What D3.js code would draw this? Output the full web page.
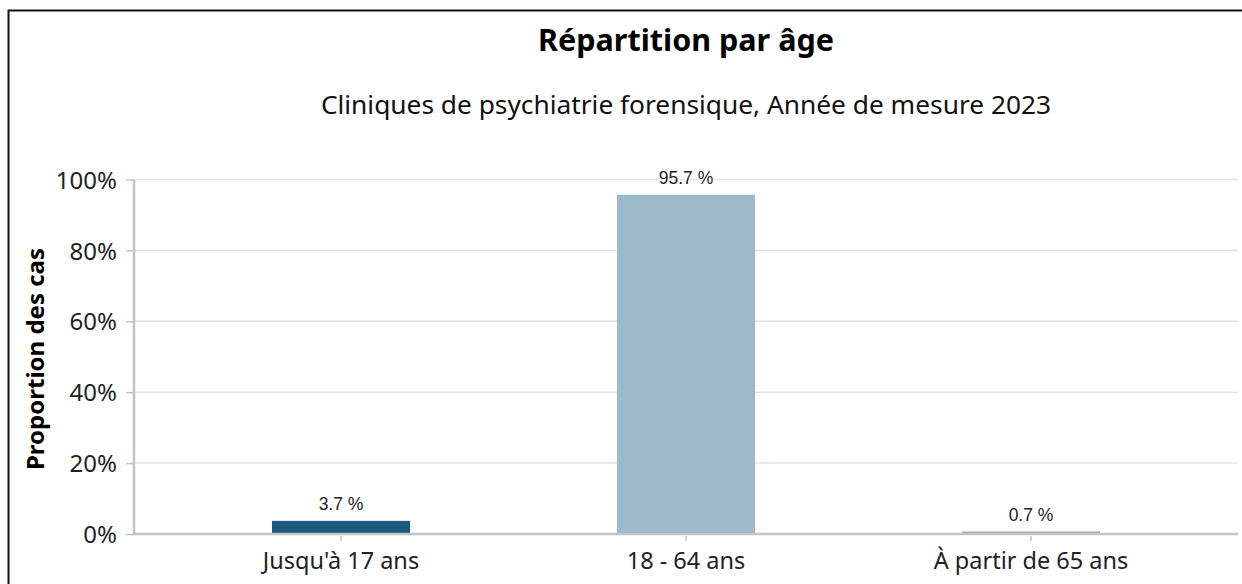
<!DOCTYPE html>
<html>
<head>
<meta charset="utf-8">
<script src="https://cdn.jsdelivr.net/npm/d3@7"></script>
<style>
  html, body { margin: 0; padding: 0; background: #fff; }
  svg { display: block; }
</style>
</head>
<body>
<svg id="chart" width="1242" height="584"></svg>
<script>
const categories = ["Jusqu'à 17 ans", "18 - 64 ans", "À partir de 65 ans"];
const values = [3.7, 95.7, 0.7];
const colors = ["#1b5a7e", "#9dbacb", "#a6a6a6"];
const yTicks = [0, 20, 40, 60, 80, 100];
const titleText = "Répartition par âge";
const subtitleText = "Cliniques de psychiatrie forensique, Année de mesure 2023";
const yTitle = "Proportion des cas";

(function () {
const svg = d3.select("#chart");
const FONT = "'Noto Sans', 'Open Sans', sans-serif";

// frame
svg.append("rect").attr("x", 8.5).attr("y", 10.5).attr("width", 1300).attr("height", 700)
  .attr("fill", "#fff").attr("stroke", "#111").attr("stroke-width", 2);

const pLeft = 134, pRight = 1238, pTop = 179.5, pBottom = 534;

const x = d3.scaleBand().domain(categories).range([pLeft, pRight]).paddingInner(0.6).paddingOuter(0.4);
const y = d3.scaleLinear().domain([0, 100]).range([pBottom, pTop]);

// gridlines
svg.append("g").selectAll("line").data(yTicks.filter(d => d > 0)).join("line")
  .attr("x1", pLeft).attr("x2", pRight)
  .attr("y1", d => y(d)).attr("y2", d => y(d))
  .attr("stroke", "#e3e3e3").attr("stroke-width", 1.5);

// y axis
const yAxis = d3.axisLeft(y).tickValues(yTicks).tickFormat(d => d + "%").tickSize(8).tickPadding(9);
const gy = svg.append("g").attr("transform", `translate(${pLeft},0)`).call(yAxis);
gy.select(".domain").attr("stroke", "#c4c4c4").attr("stroke-width", 2.5).attr("d", `M0,${pTop}V${pBottom}`);
gy.selectAll(".tick line").attr("stroke", "#c4c4c4").attr("stroke-width", 1.5).attr("x2", -8);
gy.selectAll(".tick text").attr("font-family", FONT).attr("font-size", 24).attr("fill", "#222").attr("dy", "0.36em");

// bars
svg.append("g").selectAll("rect").data(values).join("rect")
  .attr("x", (d, i) => x(categories[i]))
  .attr("width", x.bandwidth())
  .attr("y", d => y(d))
  .attr("height", d => y(0) - y(d))
  .attr("fill", (d, i) => colors[i]);

// x axis
const xAxis = d3.axisBottom(x).tickSize(7).tickPadding(11);
const gx = svg.append("g").attr("transform", `translate(0,${pBottom})`).call(xAxis);
gx.select(".domain").attr("stroke", "#c4c4c4").attr("stroke-width", 2.5).attr("d", `M${pLeft - 1},0H${pRight}`);
gx.selectAll(".tick line").attr("stroke", "#c4c4c4").attr("stroke-width", 1.5).attr("y1", 2);
gx.selectAll(".tick text").attr("font-family", FONT).attr("font-size", 23.5).attr("fill", "#222").attr("dy", "0.71em");

// data labels
svg.append("g").selectAll("text").data(values).join("text")
  .attr("x", (d, i) => x(categories[i]) + x.bandwidth() / 2)
  .attr("y", d => y(d) - 11)
  .attr("text-anchor", "middle")
  .attr("font-family", "'Liberation Sans', Arial, sans-serif")
  .attr("font-size", 17.5).attr("fill", "#222")
  .attr("stroke", "#fff").attr("stroke-width", 4).attr("paint-order", "stroke")
  .text(d => d.toFixed(1) + " %");

// titles
svg.append("text").attr("x", 686).attr("y", 51).attr("text-anchor", "middle")
  .attr("font-family", FONT).attr("font-weight", "bold").attr("font-size", 30.5).attr("fill", "#000")
  .text(titleText);
svg.append("text").attr("x", 686).attr("y", 114).attr("text-anchor", "middle")
  .attr("font-family", FONT).attr("font-size", 26.3).attr("fill", "#111")
  .text(subtitleText);

svg.append("text").attr("transform", `translate(44,359) rotate(-90)`)
  .attr("text-anchor", "middle")
  .attr("font-family", FONT).attr("font-weight", "bold").attr("font-size", 24).attr("fill", "#000")
  .text(yTitle);
})();
</script>
</body>
</html>
